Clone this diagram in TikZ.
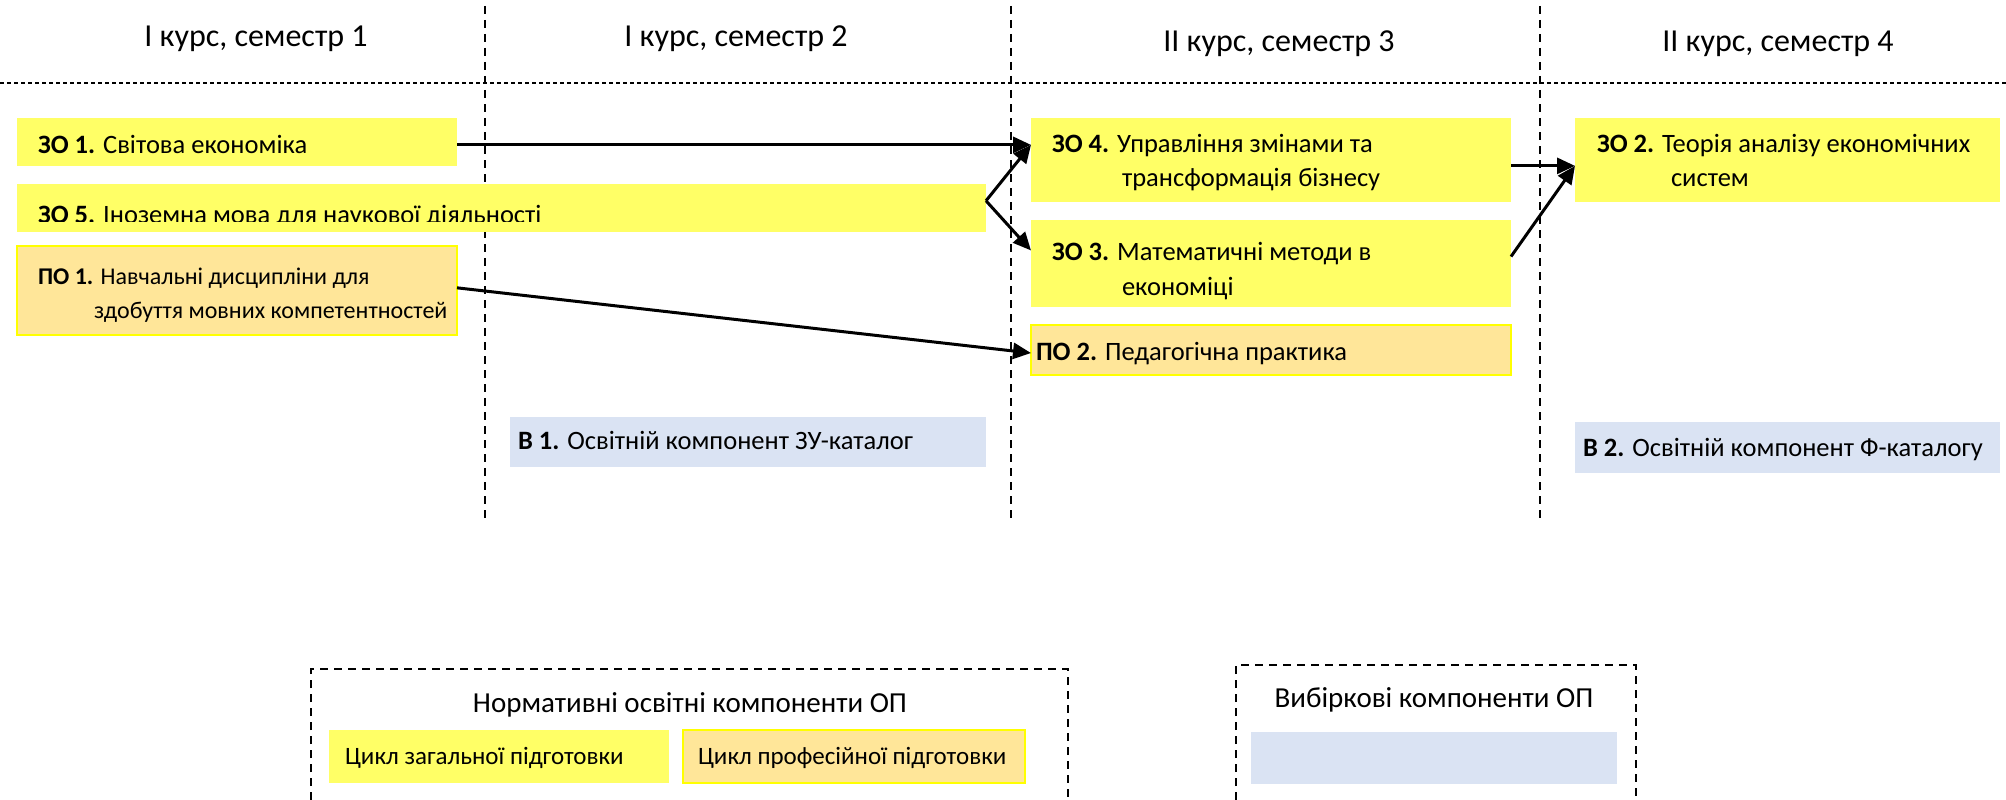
\documentclass[tikz,border=0pt]{standalone}
\usepackage{fontspec}
\setmainfont{Carlito}
\usetikzlibrary{arrows.meta,calc}
\definecolor{zy}{HTML}{FFFF66}
\definecolor{po}{HTML}{FFE699}
\definecolor{vb}{HTML}{DAE3F3}
\definecolor{yb}{HTML}{FFFF00}
\begin{document}
\begin{tikzpicture}[x=1pt,y=-1pt,
  box/.style={rectangle,inner sep=0pt,outer sep=0pt,anchor=north west},
  ybox/.style={box,fill=zy},
  obox/.style={box,fill=po,draw=yb,line width=2pt},
  bbox/.style={box,fill=vb},
  txt/.style={inner sep=0pt,outer sep=0pt,anchor=mid west,font=\fontsize{26.5}{31}\selectfont},
  stxt/.style={txt,font=\fontsize{24}{30}\selectfont},
  ltxt/.style={txt,font=\fontsize{25}{29}\selectfont},
  hdr/.style={inner sep=0pt,font=\fontsize{32}{38}\selectfont},
  ltitle/.style={inner sep=0pt,font=\fontsize{29}{35}\selectfont},
  vsep/.style={dash pattern=on 8pt off 6pt,line width=1.6pt},
  arr/.style={line width=3pt,-{Triangle[length=18pt,width=16pt]}},
]
\fill[white] (0,0) rectangle (2006,800);
\useasboundingbox (0,0) rectangle (2006,800);

% headers and separators
\node[hdr] (h1) at (256,39) {I курс, семестр 1};
\node[hdr] (h2) at (736,39) {I курс, семестр 2};
\node[hdr] (h3) at (1279,44) {II курс, семестр 3};
\node[hdr] (h4) at (1778,44) {II курс, семестр 4};
\draw[dash pattern=on 4pt off 3pt,line width=2.6pt] (0,83) -- (2006,83);
\draw[vsep] (485,6) -- (485,522);
\draw[vsep] (1011,6) -- (1011,522);
\draw[vsep] (1540,6) -- (1540,522);

% boxes
\node[ybox,minimum width=440pt,minimum height=48pt] (zo1) at (17,118) {};
\node[ybox,minimum width=969pt,minimum height=48pt] (zo5) at (17,184) {};
\node[obox,minimum width=440pt,minimum height=89pt] (po1) at (17,246) {};
\node[ybox,minimum width=480pt,minimum height=84pt] (zo4) at (1031,118) {};
\node[ybox,minimum width=480pt,minimum height=87pt] (zo3) at (1031,220) {};
\node[obox,minimum width=480pt,minimum height=50pt] (po2) at (1031,325) {};
\node[ybox,minimum width=425pt,minimum height=84pt] (zo2) at (1575,118) {};
\node[bbox,minimum width=476pt,minimum height=50pt] (b1) at (510,417) {};
\node[bbox,minimum width=425pt,minimum height=51pt] (b2) at (1575,422) {};

% texts
\node[txt] (tzo1) at (38,151) {\textbf{ЗО 1.} Світова економіка};
\begin{scope}
\clip (17,184) rectangle (986,221.5);
\node[txt,anchor=base west] (tzo5) at (38,223) {\textbf{ЗО 5.} Іноземна мова для наукової діяльності};
\end{scope}
\node[stxt] (tpo1a) at (38,282) {\textbf{ПО 1.} Навчальні дисципліни для};
\node[stxt] (tpo1b) at (94,316) {здобуття мовних компетентностей};
\node[txt] (tzo4a) at (1052,150) {\textbf{ЗО 4.} Управління змінами та};
\node[txt] (tzo4b) at (1122,184) {трансформація бізнесу};
\node[txt] (tzo3a) at (1052,258) {\textbf{ЗО 3.} Математичні методи в};
\node[txt] (tzo3b) at (1122,293) {економіці};
\node[txt] (tpo2) at (1036,358) {\textbf{ПО 2.} Педагогічна практика};
\node[txt] (tzo2a) at (1597,150) {\textbf{ЗО 2.} Теорія аналізу економічних};
\node[txt] (tzo2b) at (1671,184) {систем};
\node[txt] (tb1) at (518,447) {\textbf{В 1.} Освітній компонент ЗУ-каталог};
\node[txt] (tb2) at (1583,454) {\textbf{В 2.} Освітній компонент Ф-каталогу};

% connectors
\coordinate (zo5v) at ($(zo5.north east)!0.35!(zo5.south east)$);
\coordinate (zo1a) at ($(zo1.north east)!0.56!(zo1.south east)$);
\draw[arr] (zo1a) -- (zo1a -| zo4.west);
\draw[arr] (zo5v) -- ($(zo4.north west)!0.32!(zo4.south west)$);
\draw[arr] (zo5v) -- ($(zo3.north west)!0.35!(zo3.south west)$);
\draw[arr] ($(po1.north east)!0.47!(po1.south east)$) -- ($(po2.north west)!0.56!(po2.south west)$);
\draw[arr] ($(zo4.north east)!0.57!(zo4.south east)$) -- ($(zo2.north west)!0.57!(zo2.south west)$);
\draw[arr] ($(zo3.north east)!0.42!(zo3.south east)$) -- ($(zo2.north west)!0.57!(zo2.south west)$);

% legend
\draw[vsep] (311,800) -- (311,669) -- (1068,669) -- (1068,800);
\node[ltitle] (lt1) at (690,705) {Нормативні освітні компоненти ОП};
\node[ybox,minimum width=340pt,minimum height=53pt] (lz) at (329,730) {};
\node[obox,minimum width=342pt,minimum height=53pt] (lp) at (683,730) {};
\node[ltxt] (tlz) at (345,762) {Цикл загальної підготовки};
\node[ltxt] (tlp) at (698,762) {Цикл професійної підготовки};
\draw[vsep] (1236,800) -- (1236,665) -- (1636,665) -- (1636,800);
\node[ltitle] (lt2) at (1434,700) {Вибіркові компоненти ОП};
\node[bbox,minimum width=366pt,minimum height=52pt] (lb) at (1251,732) {};
\end{tikzpicture}
\end{document}
